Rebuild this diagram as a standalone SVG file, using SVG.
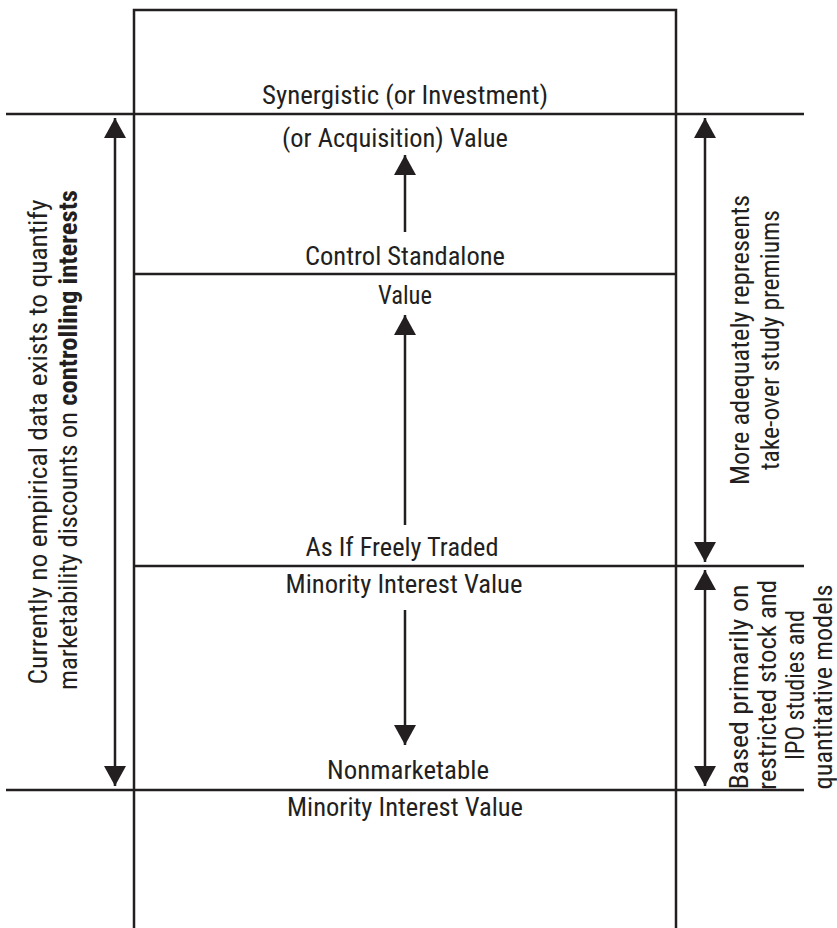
<svg xmlns="http://www.w3.org/2000/svg" width="837" height="928" viewBox="0 0 837 928">
  <style>
    .ln { stroke: #231f20; stroke-width: 2.5; fill: none; }
    .sh { stroke: #231f20; stroke-width: 2.5; fill: none; }
    .t { font-family: "Liberation Sans Narrow", "Roboto Condensed", "DejaVu Sans Condensed", "Liberation Sans", sans-serif; font-size: 25px; fill: #231f20; text-anchor: middle; }
    .b { font-weight: bold; }
  </style>
  <defs>
    <marker id="ah" viewBox="0 0 20 22" refX="20" refY="11" markerWidth="20" markerHeight="22" markerUnits="userSpaceOnUse" orient="auto-start-reverse">
      <path d="M0,0 L20,11 L0,22 Z" fill="#231f20"/>
    </marker>
  </defs>

  <g id="frame">
    <path class="ln" d="M134,928 V10 H676 V928"/>
    <line class="ln" x1="6" y1="114" x2="804" y2="114"/>
    <line class="ln" x1="134" y1="274" x2="676" y2="274"/>
    <line class="ln" x1="134" y1="566" x2="804" y2="566"/>
    <line class="ln" x1="6" y1="790" x2="804" y2="790"/>
  </g>

  <g id="connectors">
    <line class="sh" x1="405" y1="232" x2="405" y2="155" marker-end="url(#ah)"/>
    <line class="sh" x1="405" y1="525" x2="405" y2="315" marker-end="url(#ah)"/>
    <line class="sh" x1="405" y1="610" x2="405" y2="745" marker-end="url(#ah)"/>
    <line class="sh" x1="115" y1="118" x2="115" y2="786" marker-start="url(#ah)" marker-end="url(#ah)"/>
    <line class="sh" x1="705" y1="118" x2="705" y2="562" marker-start="url(#ah)" marker-end="url(#ah)"/>
    <line class="sh" x1="705" y1="570" x2="705" y2="786" marker-start="url(#ah)" marker-end="url(#ah)"/>
  </g>

  <g id="synergistic">
    <text class="t" x="405" y="104" textLength="286" lengthAdjust="spacingAndGlyphs">Synergistic (or Investment)</text>
    <text class="t" x="395" y="147" textLength="226" lengthAdjust="spacingAndGlyphs">(or Acquisition) Value</text>
  </g>
  <g id="control">
    <text class="t" x="405" y="265" textLength="200" lengthAdjust="spacingAndGlyphs">Control Standalone</text>
    <text class="t" x="405" y="304" textLength="54" lengthAdjust="spacingAndGlyphs">Value</text>
  </g>
  <g id="freely-traded">
    <text class="t" x="402" y="556" textLength="193" lengthAdjust="spacingAndGlyphs">As If Freely Traded</text>
    <text class="t" x="404" y="593" textLength="237" lengthAdjust="spacingAndGlyphs">Minority Interest Value</text>
  </g>
  <g id="nonmarketable">
    <text class="t" x="408" y="779" textLength="162" lengthAdjust="spacingAndGlyphs">Nonmarketable</text>
    <text class="t" x="405" y="816" textLength="236" lengthAdjust="spacingAndGlyphs">Minority Interest Value</text>
  </g>

  <g id="left-note">
    <text class="t" transform="translate(47,442) rotate(-90)" textLength="485" lengthAdjust="spacingAndGlyphs">Currently no empirical data exists to quantify</text>
    <text class="t" transform="translate(77,440) rotate(-90)" textLength="500" lengthAdjust="spacingAndGlyphs">marketability discounts on <tspan class="b">controlling interests</tspan></text>
  </g>

  <g id="right-upper-note">
    <text class="t" transform="translate(749,340) rotate(-90)" textLength="290" lengthAdjust="spacingAndGlyphs">More adequately represents</text>
    <text class="t" transform="translate(779,340) rotate(-90)" textLength="260" lengthAdjust="spacingAndGlyphs">take-over study premiums</text>
  </g>

  <g id="right-lower-note">
    <text class="t" transform="translate(748,687) rotate(-90)" textLength="205" lengthAdjust="spacingAndGlyphs">Based primarily on</text>
    <text class="t" transform="translate(776,685) rotate(-90)" textLength="210" lengthAdjust="spacingAndGlyphs">restricted stock and</text>
    <text class="t" transform="translate(804,685) rotate(-90)" textLength="150" lengthAdjust="spacingAndGlyphs">IPO studies and</text>
    <text class="t" transform="translate(832,687) rotate(-90)" textLength="205" lengthAdjust="spacingAndGlyphs">quantitative models</text>
  </g>
</svg>
